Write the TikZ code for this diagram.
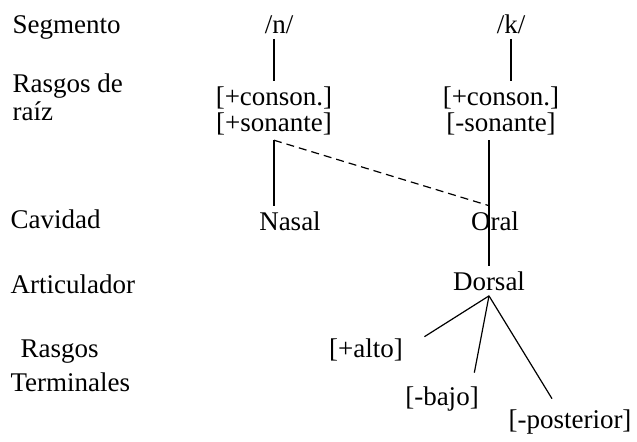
\documentclass[tikz,border=0pt]{standalone}
\usepackage{fontspec}
\setmainfont{Liberation Serif}
\begin{document}
\begin{tikzpicture}[x=.5pt, y=-.5pt, font=\fontsize{13.5}{14}\selectfont, semithick,
  every node/.style={inner sep=2.5pt},
  level/.style={anchor=base west, align=left},
  feat/.style={anchor=base, align=center}]
\useasboundingbox (0,0) rectangle (637,441);
% niveles
\node[level] (seg) at (7,33) {Segmento};
\node[level] (raiz) at (7,120) {Rasgos de\\raíz};
\node[level] (cav) at (5,228) {Cavidad};
\node[level] (art) at (5,293) {Articulador};
\node[level] (term) at (5,391) {\hspace*{5pt}Rasgos\\[3pt]Terminales};
% segmentos y rasgos
\node[feat] (n) at (279,33) {/n/};
\node[feat] (k) at (511,33) {/k/};
\node[feat] (rootn) at (274,131) {[+conson.]\\[-1pt][+sonante]};
\node[feat] (rootk) at (501,131) {[+conson.]\\[-1pt][-sonante]};
\node[feat] (nasal) at (290,230) {Nasal};
\node[feat] (oral) at (495,230) {Oral};
\node[feat] (dorsal) at (489,290) {Dorsal};
\node[feat] (alto) at (366,357) {[+alto]};
\node[feat] (bajo) at (442,405) {[-bajo]};
\node[feat] (post) at (570,428) {[-posterior]};
% lineas
\draw (n.south -| rootn) -- (rootn.north);
\draw (k.south) -- (k.south |- rootk.north);
\draw (rootn.south) -- (rootn.south |- nasal.north);
\draw[dash pattern=on 4pt off 2.5pt] (rootn.south) -- (oral.north -| dorsal);
\draw (rootk.south -| dorsal) -- (dorsal.north);
\draw (dorsal.south) -- ([xshift=8pt,yshift=-2pt]alto.north east);
\draw (dorsal.south) -- ([xshift=-5pt,yshift=4pt]bajo.north east);
\draw (dorsal.south) -- ([xshift=-9pt,yshift=2.5pt]post.north);
\end{tikzpicture}
\end{document}
